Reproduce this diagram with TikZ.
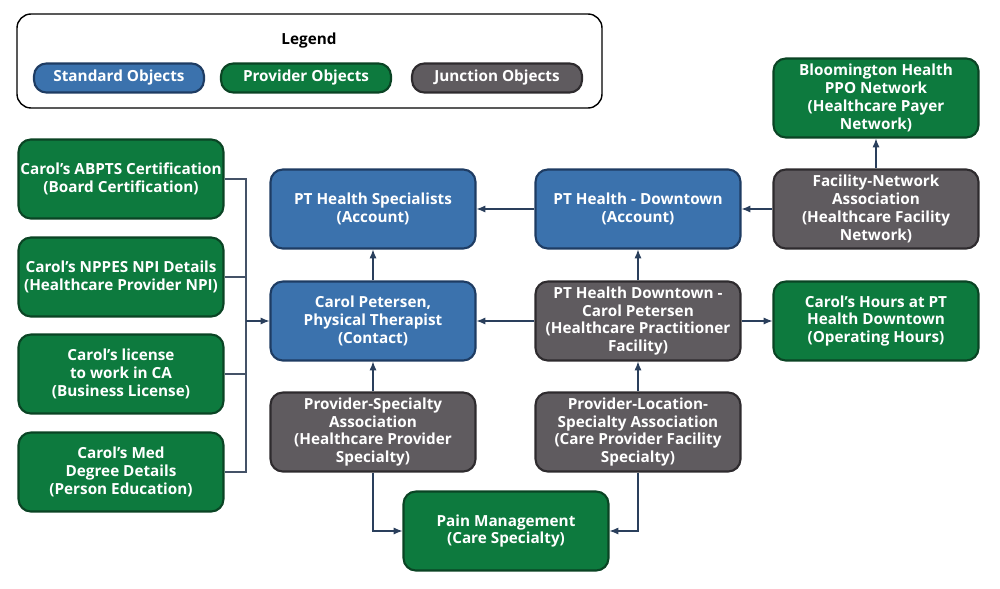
\documentclass[tikz,border=0pt]{standalone}
\usepackage{fontspec}
\setmainfont{Open Sans}
\usetikzlibrary{arrows.meta}
\definecolor{stdblue}{HTML}{3B72AD}
\definecolor{stdedge}{HTML}{1E3C63}
\definecolor{provgreen}{HTML}{0D7A3E}
\definecolor{provedge}{HTML}{0A4424}
\definecolor{juncgrey}{HTML}{5F5B5F}
\definecolor{juncedge}{HTML}{2E2B2E}
\definecolor{linkline}{HTML}{2A3F5C}
\tikzset{
  obj/.style={rounded corners=7pt,line width=1.2pt,text=white,align=center,
    minimum width=4.1cm,minimum height=1.58cm,inner sep=1pt,
    font=\fontsize{8.7}{10.1}\selectfont\bfseries},
  std/.style={obj,fill=stdblue,draw=stdedge},
  prov/.style={obj,fill=provgreen,draw=provedge},
  junc/.style={obj,fill=juncgrey,draw=juncedge},
  chip/.style={minimum width=3.4cm,minimum height=0.58cm},
  link/.style={draw=linkline,line width=0.6pt,-{Latex[length=5pt,width=4pt]}},
  bus/.style={draw=linkline!70!gray,line width=0.6pt}
}
\begin{document}
\begin{tikzpicture}[x=0.02cm,y=-0.02cm]
  \useasboundingbox (0,0) rectangle (1000,588);

  % -- legend --
  \draw[rounded corners=8pt,line width=0.8pt] (17,14) rectangle (602,108);
  \node[font=\fontsize{8.7}{10}\selectfont\bfseries] (legend) at (309,41) {Legend};
  \node[std,chip] (lstd) at (119,78) {Standard Objects};
  \node[prov,chip] (lprov) at (306,78) {Provider Objects};
  \node[junc,chip] (ljunc) at (497,78) {Junction Objects};

  % -- left column of provider records --
  \node[prov] (cert) at (121,179) {Carol's ABPTS Certification\\(Board Certification)};
  \node[prov] (npi)  at (121,277) {Carol's NPPES NPI Details\\(Healthcare Provider NPI)};
  \node[prov] (lic)  at (121,374) {Carol's license\\to work in CA\\(Business License)};
  \node[prov] (edu)  at (121,472) {Carol's Med\\Degree Details\\(Person Education)};

  % -- main grid --
  \node[std]  (spec)   at (373,209) {PT Health Specialists\\(Account)};
  \node[std]  (down)   at (638,209) {PT Health - Downtown\\(Account)};
  \node[junc] (fnet)   at (876,209) {Facility-Network\\Association\\(Healthcare Facility\\Network)};
  \node[prov] (ppo)    at (876,98)  {Bloomington Health\\PPO Network\\(Healthcare Payer\\Network)};
  \node[std]  (carol)  at (373,321) {Carol Petersen,\\Physical Therapist\\(Contact)};
  \node[junc] (hpf)    at (638,321) {PT Health Downtown -\\Carol Petersen\\(Healthcare Practitioner\\Facility)};
  \node[prov] (hours)  at (876,321) {Carol's Hours at PT\\Health Downtown\\(Operating Hours)};
  \node[junc] (pspec)  at (373,432) {Provider-Specialty\\Association\\(Healthcare Provider\\Specialty)};
  \node[junc] (plspec) at (638,432) {Provider-Location-\\Specialty Association\\(Care Provider Facility\\Specialty)};
  \node[prov] (pain)   at (506,531) {Pain Management\\(Care Specialty)};

  % -- bus from the left column --
  \coordinate (busT) at (246,179);
  \coordinate (busB) at (246,472);
  \coordinate (busM) at (246,321);
  \draw[bus] (cert.east) -- (busT) -- (busB) -- (edu.east);
  \draw[bus] (npi.east) -- (npi.east -| busT);
  \draw[bus] (lic.east) -- (lic.east -| busT);
  \draw[link] (busM) -- (carol.west);

  % -- connectors --
  \draw[link] (carol) -- (spec);
  \draw[link] (down) -- (spec);
  \draw[link] (fnet) -- (down);
  \draw[link] (fnet) -- (ppo);
  \draw[link] (hpf) -- (carol);
  \draw[link] (hpf) -- (down);
  \draw[link] (hpf) -- (hours);
  \draw[link] (pspec) -- (carol);
  \draw[link] (plspec) -- (hpf);
  \draw[link] (pspec.south) |- (pain.west);
  \draw[link] (plspec.south) |- (pain.east);
\end{tikzpicture}
\end{document}
